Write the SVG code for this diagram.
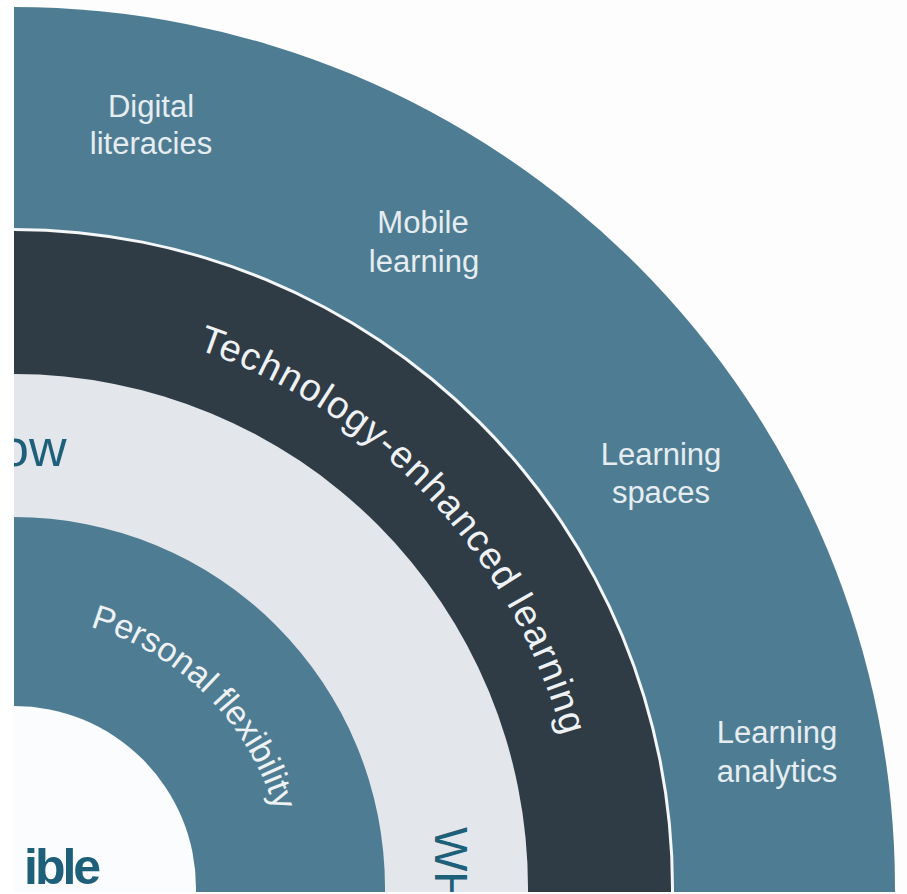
<svg xmlns="http://www.w3.org/2000/svg" width="907" height="894" viewBox="0 0 907 894">
  <style>
    .ring-blue { fill: #4e7d93; }
    .ring-dark { fill: #2f3c46; }
    .ring-light { fill: #e3e7ec; }
    .sep { fill: #f4f6f8; }
    .core { fill: #fbfcfd; }
    .lbl { font-family: "Liberation Sans", Arial, sans-serif; font-size: 31px; fill: #e6edf1; text-anchor: middle; }
    .arc { font-family: "Liberation Sans", Arial, sans-serif; fill: #eef2f5; }
    .big { font-family: "Liberation Sans", Arial, sans-serif; fill: #1e5f7a; }
  </style>
  <defs>
    <path id="p-tel" d="M197.4,349.4 A569,569 0 0 1 582.7,868.1"/>
    <path id="p-pf" d="M89.9,626.8 A272,272 0 0 1 285.8,878.5"/>
  </defs>
  <rect x="0" y="0" width="907" height="894" fill="#fdfdfd"/>

  <g id="outer-ring">
    <circle class="ring-blue" cx="14" cy="888" r="881"/>
    <circle class="sep" cx="14" cy="888" r="660"/>
  </g>
  <g id="tel-ring">
    <circle class="ring-dark" cx="14" cy="888" r="657"/>
  </g>
  <g id="how-ring">
    <circle class="ring-light" cx="14" cy="888" r="514"/>
  </g>
  <g id="personal-ring">
    <circle class="ring-blue" cx="14" cy="888" r="371"/>
  </g>
  <g id="core">
    <circle class="core" cx="14" cy="888" r="182"/>
  </g>

  <g id="outer-labels">
    <g id="digital-literacies">
      <text class="lbl"><tspan x="151" y="117">Digital</tspan><tspan x="151" y="154">literacies</tspan></text>
    </g>
    <g id="mobile-learning">
      <text class="lbl"><tspan x="423" y="233">Mobile</tspan><tspan x="424" y="272">learning</tspan></text>
    </g>
    <g id="learning-spaces">
      <text class="lbl"><tspan x="661" y="465">Learning</tspan><tspan x="661" y="503">spaces</tspan></text>
    </g>
    <g id="learning-analytics">
      <text class="lbl"><tspan x="777" y="743">Learning</tspan><tspan x="777" y="782">analytics</tspan></text>
    </g>
  </g>

  <g id="tel-label">
    <text class="arc" font-size="38" letter-spacing="1.3"><textPath href="#p-tel">Technology-enhanced learning</textPath></text>
  </g>
  <g id="pf-label">
    <text class="arc" font-size="34"><textPath href="#p-pf">Personal flexibility</textPath></text>
  </g>

  <g id="big-labels">
    <text class="big" x="0" y="466" font-size="52">ow</text>
    <text class="big" x="24" y="884" font-size="50" font-weight="bold" letter-spacing="-3">ible</text>
    <text class="big" transform="translate(435,827) rotate(90)" font-size="47">WH</text>
  </g>

  <rect x="0" y="0" width="14" height="894" fill="#ffffff"/>
  <rect x="0" y="892" width="907" height="2" fill="#ffffff"/>
</svg>
